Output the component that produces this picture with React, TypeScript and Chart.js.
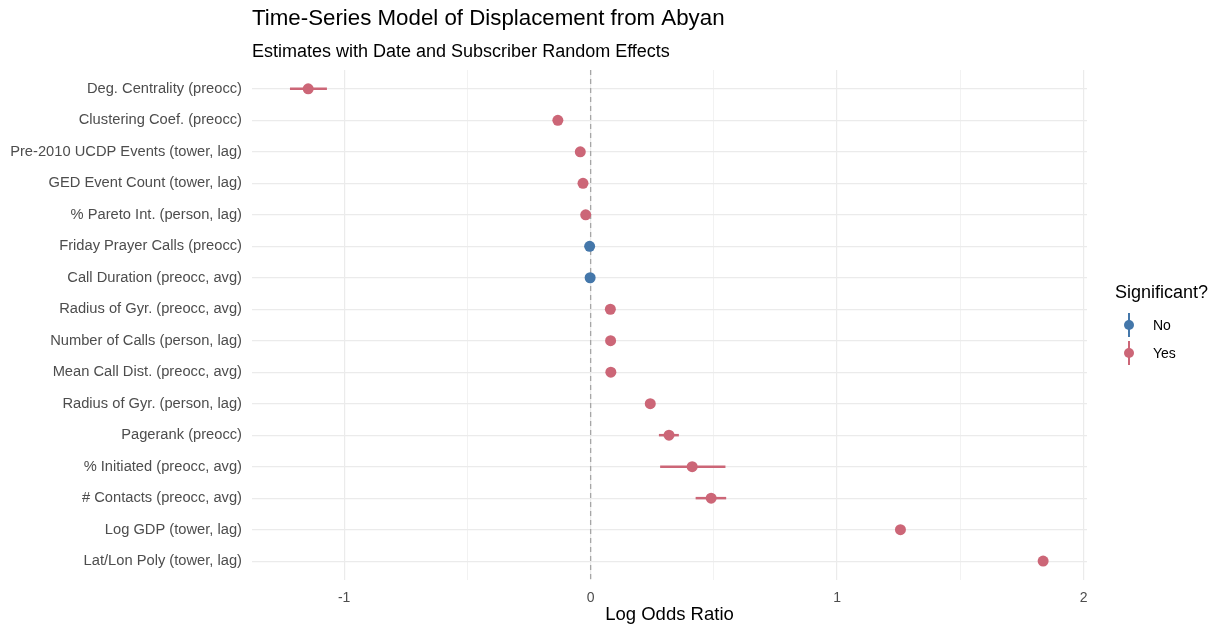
import React, { useEffect, useRef } from "react";
import { Chart, registerables } from "chart.js";

Chart.register(...registerables);

const terms = [
  "Deg. Centrality (preocc)",
  "Clustering Coef. (preocc)",
  "Pre-2010 UCDP Events (tower, lag)",
  "GED Event Count (tower, lag)",
  "% Pareto Int. (person, lag)",
  "Friday Prayer Calls (preocc)",
  "Call Duration (preocc, avg)",
  "Radius of Gyr. (preocc, avg)",
  "Number of Calls (person, lag)",
  "Mean Call Dist. (preocc, avg)",
  "Radius of Gyr. (person, lag)",
  "Pagerank (preocc)",
  "% Initiated (preocc, avg)",
  "# Contacts (preocc, avg)",
  "Log GDP (tower, lag)",
  "Lat/Lon Poly (tower, lag)",
];
const estimates = [-1.146, -0.133, -0.042, -0.031, -0.02, -0.004, -0.002, 0.08, 0.081, 0.082, 0.242, 0.318, 0.412, 0.489, 1.257, 1.836];
const lower = [-1.22, -0.145, -0.052, -0.039, -0.03, -0.012, -0.008, 0.072, 0.073, 0.074, 0.23, 0.277, 0.282, 0.426, 1.242, 1.818];
const upper = [-1.07, -0.121, -0.032, -0.023, -0.01, 0.004, 0.004, 0.088, 0.089, 0.09, 0.254, 0.358, 0.547, 0.55, 1.272, 1.854];
const significant = ["Yes", "Yes", "Yes", "Yes", "Yes", "No", "No", "Yes", "Yes", "Yes", "Yes", "Yes", "Yes", "Yes", "Yes", "Yes"];
const groups = ["No", "Yes"];
const xTickValues = [-1, -0.5, 0, 0.5, 1, 1.5, 2];

const COLORS: Record<string, string> = { No: "#4477AA", Yes: "#CC6677" };
const FONT = "'Liberation Sans', Arial, Helvetica, sans-serif";

const whiskerPlugin = {
  id: "whiskers",
  beforeDatasetsDraw(chart: any) {
    const { ctx, chartArea, scales } = chart;
    const xs = scales.x;
    const x0 = xs.getPixelForValue(0);
    ctx.save();
    ctx.strokeStyle = "#a6a6a6";
    ctx.lineWidth = 1.3;
    ctx.setLineDash([5, 4]);
    ctx.beginPath();
    ctx.moveTo(x0, chartArea.top);
    ctx.lineTo(x0, chartArea.bottom);
    ctx.stroke();
    ctx.setLineDash([]);
    chart.data.datasets.forEach((ds: any, di: number) => {
      const meta = chart.getDatasetMeta(di);
      ctx.strokeStyle = ds.borderColor;
      ctx.lineWidth = 2.5;
      meta.data.forEach((el: any, i: number) => {
        const raw = ds.data[i];
        const a = xs.getPixelForValue(raw.lo);
        const b = xs.getPixelForValue(raw.hi);
        ctx.beginPath();
        ctx.moveTo(a, el.y);
        ctx.lineTo(b, el.y);
        ctx.stroke();
      });
    });
    ctx.restore();
  },
};

export default function App() {
  const ref = useRef<HTMLCanvasElement | null>(null);

  useEffect(() => {
    if (!ref.current) return;
    const datasets = groups.map((g) => ({
      label: g,
      data: terms
        .map((t, i) => ({ x: estimates[i], y: i, lo: lower[i], hi: upper[i], sig: significant[i] }))
        .filter((d) => d.sig === g),
      backgroundColor: COLORS[g],
      borderColor: COLORS[g],
      pointRadius: 5.5,
      pointHoverRadius: 5.5,
      pointBorderWidth: 0,
      showLine: false,
    }));

    const chart = new Chart(ref.current, {
      type: "scatter",
      data: { datasets },
      plugins: [whiskerPlugin],
      options: {
        animation: false,
        responsive: false,
        maintainAspectRatio: false,
        layout: { padding: { left: 0, right: 128, top: 0, bottom: 0 } },
        plugins: {
          legend: { display: false },
          tooltip: { enabled: false },
          title: {
            display: true,
            text: "Time-Series Model of Displacement from Abyan",
            align: "start",
            fullSize: false,
            color: "#000000",
            font: { family: FONT, size: 22.3, weight: "normal", lineHeight: 1.2 },
            padding: { top: 5.8, bottom: 5 },
          },
          subtitle: {
            display: true,
            text: "Estimates with Date and Subscriber Random Effects",
            align: "start",
            fullSize: false,
            color: "#000000",
            font: { family: FONT, size: 18, weight: "normal", lineHeight: 1.2 },
            padding: { top: 4.1, bottom: 6.7 },
          },
        },
        scales: {
          x: {
            type: "linear",
            min: -1.374,
            max: 2.014,
            afterBuildTicks: (axis: any) => {
              axis.ticks = xTickValues.map((v) => ({ value: v }));
            },
            afterFit: (axis: any) => {
              axis.height = 46;
            },
            ticks: {
              autoSkip: false,
              maxRotation: 0,
              padding: 9.5,
              color: "#4d4d4d",
              font: { family: FONT, size: 14 },
              callback: (v: any) => (Number.isInteger(v) ? String(v) : ""),
            },
            grid: {
              drawTicks: false,
              color: (c: any) => (c.tick && Number.isInteger(c.tick.value) ? "#ebebeb" : "#f2f2f2"),
              lineWidth: (c: any) => (c.tick && Number.isInteger(c.tick.value) ? 1.2 : 1),
            },
            border: { display: false },
            title: {
              display: true,
              text: "Log Odds Ratio",
              color: "#000000",
              font: { family: FONT, size: 18.5, lineHeight: 1.2 },
              padding: { top: 0, bottom: 0 },
            },
          },
          y: {
            type: "linear",
            min: -0.6,
            max: terms.length - 1 + 0.6,
            reverse: true,
            afterBuildTicks: (axis: any) => {
              axis.ticks = terms.map((_, i) => ({ value: i }));
            },
            afterFit: (axis: any) => {
              axis.width = 252;
            },
            ticks: {
              autoSkip: false,
              padding: 10,
              color: "#4d4d4d",
              font: { family: FONT, size: 14.7 },
              callback: (v: any) => terms[v] ?? "",
            },
            grid: { drawTicks: false, color: "#ebebeb", lineWidth: 1.2 },
            border: { display: false },
          },
        },
      } as any,
    });
    return () => chart.destroy();
  }, []);

  const legendItem = (g: string, cy: number) => (
    <React.Fragment key={g}>
      <div
        style={{
          position: "absolute",
          left: 1128,
          top: cy - 12,
          width: 2,
          height: 24,
          background: COLORS[g],
        }}
      />
      <div
        style={{
          position: "absolute",
          left: 1124,
          top: cy - 5,
          width: 10,
          height: 10,
          borderRadius: "50%",
          background: COLORS[g],
        }}
      />
      <div
        style={{
          position: "absolute",
          left: 1153,
          top: cy - 9,
          height: 18,
          lineHeight: "18px",
          fontFamily: FONT,
          fontSize: 14,
          color: "#000",
          whiteSpace: "nowrap",
        }}
      >
        {g}
      </div>
    </React.Fragment>
  );

  return (
    <div style={{ position: "absolute", left: 0, top: 0, width: 1215, height: 626, background: "#fff", overflow: "hidden" }}>
      <canvas ref={ref} width={1215} height={626} style={{ width: 1215, height: 626, display: "block" }} />
      <div
        style={{
          position: "absolute",
          left: 1115,
          top: 281,
          height: 22,
          lineHeight: "22px",
          fontFamily: FONT,
          fontSize: 18,
          color: "#000",
          whiteSpace: "nowrap",
        }}
      >
        Significant?
      </div>
      {legendItem("No", 325)}
      {legendItem("Yes", 353)}
    </div>
  );
}
